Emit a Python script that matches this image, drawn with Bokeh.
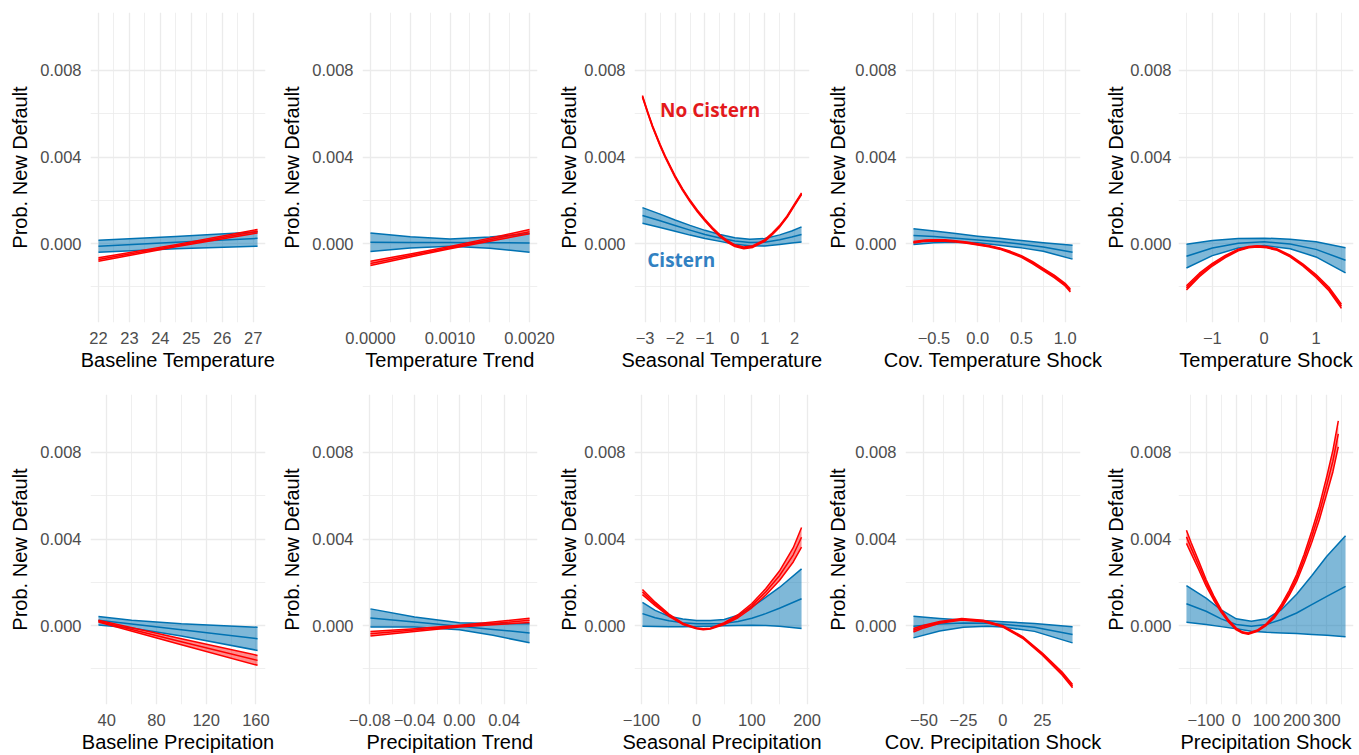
from bokeh.plotting import figure
from bokeh.layouts import gridplot
from bokeh.models import Range1d, FixedTicker, Label
from bokeh.embed import file_html
from bokeh.resources import INLINE

# ---------------- shared y axis ----------------
Y_LABEL = "Prob. New Default"
Y_TICKS = [0.0, 0.004, 0.008]
Y_TICK_LABELS = ["0.000", "0.004", "0.008"]
Y_MINOR = [-0.002, 0.002, 0.006]
Y_LIMITS = [-0.00365, 0.01068]

# ---------------- panel 1: Baseline Temperature ----------------
bt_title = "Baseline Temperature"
bt_ticks = [22, 23, 24, 25, 26, 27]
bt_labels = ["22", "23", "24", "25", "26", "27"]
bt_minor = [22.5, 23.5, 24.5, 25.5, 26.5]
bt_bx = [22.0, 24.5, 27.14]
bt_blo = [-0.0004, -0.00024, -0.00012]
bt_bmid = [-0.00012, 0.00006, 0.00024]
bt_bhi = [0.00015, 0.00032, 0.00054]
bt_rx = [22.0, 24.5, 27.14]
bt_rlo = [-0.00082, -0.00015, 0.00049]
bt_rmid = [-0.00074, -0.0001, 0.00057]
bt_rhi = [-0.00066, -0.00005, 0.00065]

# ---------------- panel 2: Temperature Trend ----------------
tt_title = "Temperature Trend"
tt_ticks = [0.0, 0.0005, 0.001, 0.0015, 0.002]
tt_labels = ["0.0000", "", "0.0010", "", "0.0020"]
tt_minor = [0.00025, 0.00075, 0.00125, 0.00175]
tt_bx = [0.0, 0.0005, 0.001, 0.0015, 0.002]
tt_blo = [-0.00037, -0.00021, -0.00012, -0.00022, -0.0004]
tt_bmid = [0.00006, 0.00005, 0.000045, 0.00004, 0.00003]
tt_bhi = [0.00049, 0.00031, 0.00021, 0.0003, 0.00046]
tt_rx = [0.0, 0.0005, 0.001, 0.0015, 0.002]
tt_rlo = [-0.00102, -0.00062, -0.00024, 0.00011, 0.00045]
tt_rmid = [-0.00092, -0.00055, -0.00019, 0.00018, 0.00055]
tt_rhi = [-0.00082, -0.00048, -0.00014, 0.00025, 0.00065]

# ---------------- panel 3: Seasonal Temperature ----------------
st_title = "Seasonal Temperature"
st_ticks = [-3, -2, -1, 0, 1, 2]
st_labels = ["\u22123", "\u22122", "\u22121", "0", "1", "2"]
st_minor = [-2.5, -1.5, -0.5, 0.5, 1.5]
st_bx = [-3.09, -2.5, -2.0, -1.5, -1.0, -0.5, 0.0, 0.5, 1.0, 1.5, 1.9, 2.23]
st_blo = [0.00094, 0.00074, 0.00057, 0.00039, 0.00023, 0.0001, -0.00003, -0.0001, -0.00011, -0.00004, 0.00002, 0.00007]
st_bmid = [0.0013, 0.00105, 0.00083, 0.00062, 0.00042, 0.00026, 0.00012, 0.00005, 0.00006, 0.00018, 0.0003, 0.00042]
st_bhi = [0.00166, 0.00136, 0.00109, 0.00084, 0.00061, 0.00042, 0.00027, 0.0002, 0.00023, 0.0004, 0.00058, 0.00077]
st_rx = [-3.09, -2.9, -2.75, -2.5, -2.33, -2.0, -1.75, -1.5, -1.25, -1.0, -0.75, -0.5,
         -0.25, 0.0, 0.3, 0.6, 1.0, 1.25, 1.5, 1.75, 2.0, 2.23]
st_rmid = [0.0068, 0.006, 0.0054, 0.00455, 0.00402, 0.0031, 0.0025, 0.00197, 0.0015, 0.00108,
           0.0007, 0.00036, 0.0001, -0.0001, -0.0002, -0.00014, 0.00014, 0.00045, 0.0008,
           0.00125, 0.0018, 0.0023]
st_rlo = [v - 0.00004 for v in st_rmid]
st_rhi = [v + 0.00004 for v in st_rmid]
st_note_red = ["No Cistern", -2.5, 0.00615]
st_note_blue = ["Cistern", -2.93, -0.00074]

# ---------------- panel 4: Cov. Temperature Shock ----------------
ct_title = "Cov. Temperature Shock"
ct_ticks = [-0.5, 0.0, 0.5, 1.0]
ct_labels = ["\u22120.5", "0.0", "0.5", "1.0"]
ct_minor = [-0.75, -0.25, 0.25, 0.75]
ct_bx = [-0.735, -0.5, -0.25, 0.0, 0.25, 0.5, 0.75, 1.085]
ct_blo = [-0.00005, 0.00004, 0.00006, 0.00004, -0.00008, -0.0002, -0.00036, -0.00072]
ct_bmid = [0.00037, 0.00032, 0.00024, 0.00016, 0.00008, -0.00003, -0.00016, -0.0004]
ct_bhi = [0.00068, 0.00058, 0.00046, 0.00034, 0.00024, 0.00014, 0.00004, -0.00008]
ct_rx = [-0.735, -0.6, -0.5, -0.375, -0.25, -0.125, 0.0, 0.125, 0.25, 0.375, 0.5, 0.625,
         0.75, 0.875, 1.0, 1.06]
ct_rmid = [0.00006, 0.00013, 0.00015, 0.00014, 0.0001, 0.00004, -0.00004, -0.00012, -0.00023,
           -0.0004, -0.0006, -0.00088, -0.0012, -0.00152, -0.0019, -0.00217]
ct_rhalf = [0.00004, 0.00003, 0.00003, 0.00003, 0.00003, 0.00003, 0.00003, 0.00003, 0.00003,
            0.00004, 0.00004, 0.00005, 0.00005, 0.00006, 0.00006, 0.00007]
ct_rlo = [m - h for m, h in zip(ct_rmid, ct_rhalf)]
ct_rhi = [m + h for m, h in zip(ct_rmid, ct_rhalf)]

# ---------------- panel 5: Temperature Shock ----------------
ts_title = "Temperature Shock"
ts_ticks = [-1, 0, 1]
ts_labels = ["\u22121", "0", "1"]
ts_minor = [-1.5, -0.5, 0.5, 1.5]
ts_bx = [-1.5, -1.0, -0.5, 0.0, 0.5, 1.0, 1.57]
ts_blo = [-0.00113, -0.00056, -0.00021, -0.00009, -0.00024, -0.00062, -0.00136]
ts_bmid = [-0.00059, -0.00021, 0.00001, 0.00008, -0.00002, -0.00027, -0.00077]
ts_bhi = [-0.00003, 0.00014, 0.00023, 0.00025, 0.0002, 0.00008, -0.00019]
ts_rx = [-1.5, -1.25, -1.0, -0.75, -0.5, -0.3, -0.13, 0.05, 0.25, 0.5, 0.75, 1.0, 1.25, 1.49]
ts_rmid = [-0.00205, -0.00145, -0.00098, -0.0006, -0.0003, -0.00017, -0.00013, -0.00017,
           -0.00028, -0.00058, -0.001, -0.0015, -0.0021, -0.0029]
ts_rhalf = [0.0001, 0.00008, 0.00006, 0.00005, 0.00004, 0.00003, 0.00003, 0.00003, 0.00003,
            0.00004, 0.00005, 0.00007, 0.00008, 0.0001]
ts_rlo = [m - h for m, h in zip(ts_rmid, ts_rhalf)]
ts_rhi = [m + h for m, h in zip(ts_rmid, ts_rhalf)]

# ---------------- panel 6: Baseline Precipitation ----------------
bp_title = "Baseline Precipitation"
bp_ticks = [40, 80, 120, 160]
bp_labels = ["40", "80", "120", "160"]
bp_minor = [60, 100, 140]
bp_bx = [33.3, 60, 100, 161.3]
bp_blo = [0.00002, -0.00011, -0.00048, -0.00115]
bp_bmid = [0.00024, 0.00007, -0.0002, -0.00061]
bp_bhi = [0.00042, 0.00025, 0.00008, -0.00008]
bp_rx = [33.3, 100, 161.3]
bp_rlo = [0.00016, -0.00089, -0.00184]
bp_rmid = [0.0002, -0.00075, -0.00161]
bp_rhi = [0.00024, -0.00061, -0.00138]

# ---------------- panel 7: Precipitation Trend ----------------
pt_title = "Precipitation Trend"
pt_ticks = [-0.08, -0.04, 0.0, 0.04]
pt_labels = ["\u22120.08", "\u22120.04", "0.00", "0.04"]
pt_minor = [-0.06, -0.02, 0.02, 0.06]
pt_bx = [-0.0794, -0.04, 0.0, 0.03, 0.0626]
pt_blo = [-0.00007, -0.00007, -0.00019, -0.00045, -0.0008]
pt_bmid = [0.00035, 0.00016, -0.00003, -0.00018, -0.00034]
pt_bhi = [0.00077, 0.00039, 0.00013, 0.00009, 0.00008]
pt_rx = [-0.0794, -0.04, 0.0, 0.03, 0.0626]
pt_rlo = [-0.00048, -0.00027, -0.00007, 0.00004, 0.00014]
pt_rmid = [-0.00038, -0.00021, -0.00003, 0.0001, 0.00024]
pt_rhi = [-0.00028, -0.00015, 0.00001, 0.00016, 0.00034]

# ---------------- panel 8: Seasonal Precipitation ----------------
sp_title = "Seasonal Precipitation"
sp_ticks = [-100, 0, 100, 200]
sp_labels = ["\u2212100", "0", "100", "200"]
sp_minor = [-50, 50, 150]
sp_bx = [-98, -75, -50, -25, 0, 25, 50, 75, 100, 125, 150, 190]
sp_blo = [-0.00003, -0.00005, -0.00006, -0.00006, -0.00005, -0.00003, -0.00001, 0.0, 0.00001, 0.0, -0.00003, -0.00014]
sp_bmid = [0.00055, 0.00036, 0.00022, 0.00013, 0.00008, 0.00008, 0.0001, 0.00019, 0.00034, 0.00055, 0.0008, 0.00124]
sp_bhi = [0.00107, 0.0007, 0.00043, 0.0003, 0.00023, 0.00023, 0.00028, 0.00048, 0.00085, 0.0013, 0.00176, 0.00262]
sp_rx = [-98, -75, -50, -25, 0, 12, 25, 50, 75, 100, 125, 150, 175, 190]
sp_rlo = [0.00143, 0.00092, 0.00043, 0.00005, -0.00015, -0.00019, -0.00016, 0.00005,
          0.00036, 0.00082, 0.0014, 0.00208, 0.00294, 0.00363]
sp_rmid = [0.00155, 0.001, 0.00048, 0.00008, -0.00013, -0.00017, -0.00014, 0.00009,
           0.00043, 0.00092, 0.00155, 0.0023, 0.00327, 0.00408]
sp_rhi = [0.00167, 0.00108, 0.00053, 0.00011, -0.00011, -0.00015, -0.00012, 0.00013,
          0.0005, 0.00102, 0.0017, 0.00252, 0.0036, 0.00453]

# ---------------- panel 9: Cov. Precipitation Shock ----------------
cp_title = "Cov. Precipitation Shock"
cp_ticks = [-50, -25, 0, 25]
cp_labels = ["\u221250", "\u221225", "0", "25"]
cp_minor = [-37.5, -12.5, 12.5, 37.5]
cp_bx = [-56.6, -40, -25, -10, 0, 20, 44.1]
cp_blo = [-0.00057, -0.00025, -0.00008, -0.00003, -0.00007, -0.00027, -0.0008]
cp_bmid = [-0.00003, 0.00007, 0.00012, 0.00011, 0.00006, -0.00008, -0.00041]
cp_bhi = [0.00043, 0.00033, 0.00026, 0.00022, 0.00018, 0.00009, -0.00006]
cp_rx = [-56.6, -50, -40, -26, -12.5, 0, 12.5, 25, 37.5, 44.1]
cp_rlo = [-0.0003, -0.00011, 0.00011, 0.00026, 0.00018, -0.00007, -0.00059, -0.00137, -0.00229, -0.00288]
cp_rmid = [-0.00022, -0.00005, 0.00015, 0.00029, 0.00021, -0.00004, -0.00055, -0.00132, -0.00222, -0.0028]
cp_rhi = [-0.00014, 0.00001, 0.00019, 0.00032, 0.00024, -0.00001, -0.00051, -0.00127, -0.00215, -0.00272]

# ---------------- panel 10: Precipitation Shock ----------------
ps_title = "Precipitation Shock"
ps_ticks = [-100, 0, 100, 200, 300]
ps_labels = ["\u2212100", "0", "100", "200", "300"]
ps_minor = [-150, -50, 50, 150, 250, 350]
ps_bx = [-165, -100, -50, 0, 50, 100, 150, 200, 250, 300, 362]
ps_blo = [0.00015, 0.00005, -0.00005, -0.00015, -0.00026, -0.00031, -0.00034, -0.00037, -0.00041, -0.00045, -0.00052]
ps_bmid = [0.00101, 0.00066, 0.00031, 0.00005, -0.00003, 0.00005, 0.00028, 0.00058, 0.00097, 0.00135, 0.00181]
ps_bhi = [0.00185, 0.00127, 0.00072, 0.00031, 0.0002, 0.00031, 0.00074, 0.00145, 0.0023, 0.0032, 0.00415]
ps_rx = [-165, -150, -125, -100, -75, -50, -25, 0, 20, 40, 70, 100, 125, 150, 175, 200,
         225, 250, 275, 300, 320, 338]
ps_rmid = [0.0041, 0.0036, 0.0028, 0.00198, 0.00128, 0.00068, 0.0002, -0.00016, -0.00032,
           -0.00037, -0.00024, 0.00005, 0.0004, 0.0009, 0.0015, 0.0022, 0.0031, 0.0041,
           0.0052, 0.0065, 0.0076, 0.00886]
ps_rhalf = [0.0003, 0.00025, 0.0002, 0.00015, 0.0001, 0.00007, 0.00005, 0.00004, 0.00003,
            0.00003, 0.00003, 0.00004, 0.00006, 0.00009, 0.00012, 0.00016, 0.0002, 0.00026,
            0.00032, 0.0004, 0.0005, 0.0006]
ps_rlo = [m - h for m, h in zip(ps_rmid, ps_rhalf)]
ps_rhi = [m + h for m, h in zip(ps_rmid, ps_rhalf)]

# ---------------- styles ----------------
BLUE = "#0072B2"
RED = "#FF0000"
GRID = "#EBEBEB"
FONT = "Liberation Sans"

COL_L = [90, 85, 79, 81, 76]
COL_R = [12, 18, 15, 22, 6]
FRAME_W = [175, 175, 175, 175, 175]
Y_LABEL_STANDOFF = [9, 9, 9, 9, 7]
Y_TITLE_STANDOFF = [6, 6, 1, 3, 0]
ROW_T = [12, 13]
ROW_B = [59, 51]
FRAME_H = 310

panels = [
    [bt_title, bt_ticks, bt_labels, bt_minor, bt_bx, bt_blo, bt_bmid, bt_bhi, bt_rx, bt_rlo, bt_rmid, bt_rhi],
    [tt_title, tt_ticks, tt_labels, tt_minor, tt_bx, tt_blo, tt_bmid, tt_bhi, tt_rx, tt_rlo, tt_rmid, tt_rhi],
    [st_title, st_ticks, st_labels, st_minor, st_bx, st_blo, st_bmid, st_bhi, st_rx, st_rlo, st_rmid, st_rhi],
    [ct_title, ct_ticks, ct_labels, ct_minor, ct_bx, ct_blo, ct_bmid, ct_bhi, ct_rx, ct_rlo, ct_rmid, ct_rhi],
    [ts_title, ts_ticks, ts_labels, ts_minor, ts_bx, ts_blo, ts_bmid, ts_bhi, ts_rx, ts_rlo, ts_rmid, ts_rhi],
    [bp_title, bp_ticks, bp_labels, bp_minor, bp_bx, bp_blo, bp_bmid, bp_bhi, bp_rx, bp_rlo, bp_rmid, bp_rhi],
    [pt_title, pt_ticks, pt_labels, pt_minor, pt_bx, pt_blo, pt_bmid, pt_bhi, pt_rx, pt_rlo, pt_rmid, pt_rhi],
    [sp_title, sp_ticks, sp_labels, sp_minor, sp_bx, sp_blo, sp_bmid, sp_bhi, sp_rx, sp_rlo, sp_rmid, sp_rhi],
    [cp_title, cp_ticks, cp_labels, cp_minor, cp_bx, cp_blo, cp_bmid, cp_bhi, cp_rx, cp_rlo, cp_rmid, cp_rhi],
    [ps_title, ps_ticks, ps_labels, ps_minor, ps_bx, ps_blo, ps_bmid, ps_bhi, ps_rx, ps_rlo, ps_rmid, ps_rhi],
]


def make_panel(cfg, row, col):
    title, ticks, labels, minor, bx, blo, bmid, bhi, rx, rlo, rmid, rhi = cfg
    xs = list(bx) + list(rx)
    x0, x1 = min(xs), max(xs)
    pad = 0.05 * (x1 - x0)
    w = COL_L[col] + FRAME_W[col] + COL_R[col]
    h = ROW_T[row] + FRAME_H + ROW_B[row]
    p = figure(width=w, height=h,
               x_range=Range1d(x0 - pad, x1 + pad),
               y_range=Range1d(Y_LIMITS[0], Y_LIMITS[1]),
               output_backend="svg", toolbar_location=None,
               min_border_left=COL_L[col], min_border_right=COL_R[col],
               min_border_top=ROW_T[row], min_border_bottom=ROW_B[row])
    p.outline_line_color = None
    p.background_fill_color = "white"
    p.border_fill_color = "white"

    xt = FixedTicker(ticks=ticks, minor_ticks=minor)
    yt = FixedTicker(ticks=Y_TICKS, minor_ticks=Y_MINOR)
    p.xaxis.ticker = xt
    p.yaxis.ticker = yt
    p.xgrid.ticker = xt
    p.ygrid.ticker = yt
    p.xaxis.major_label_overrides = {float(t): l for t, l in zip(ticks, labels)}
    p.yaxis.major_label_overrides = {float(t): l for t, l in zip(Y_TICKS, Y_TICK_LABELS)}

    for g in (p.xgrid, p.ygrid):
        g.grid_line_color = GRID
        g.grid_line_width = 1.3
        g.minor_grid_line_color = GRID
        g.minor_grid_line_width = 0.8

    for ax in (p.xaxis, p.yaxis):
        ax.axis_line_color = None
        ax.major_tick_line_color = None
        ax.minor_tick_line_color = None
        ax.major_tick_out = 0
        ax.major_tick_in = 0
        ax.minor_tick_out = 0
        ax.minor_tick_in = 0
        ax.major_label_text_font = FONT
        ax.major_label_text_font_size = "16.5px"
        ax.major_label_text_color = "#4D4D4D"
        ax.axis_label_text_font = FONT
        ax.axis_label_text_font_size = "20px"
        ax.axis_label_text_font_style = "normal"
        ax.axis_label_text_color = "#000000"

    p.xaxis.axis_label = title
    p.xaxis.major_label_standoff = 9
    p.xaxis.axis_label_standoff = 2
    p.yaxis.axis_label = Y_LABEL
    p.yaxis.major_label_standoff = Y_LABEL_STANDOFF[col]
    p.yaxis.axis_label_standoff = Y_TITLE_STANDOFF[col]

    # Cistern (blue) ribbon
    p.varea(x=bx, y1=blo, y2=bhi, fill_color=BLUE, fill_alpha=0.5)
    for ys in (blo, bmid, bhi):
        p.line(bx, ys, line_color=BLUE, line_width=1.5, line_join="round")
    # No Cistern (red) ribbon
    p.varea(x=rx, y1=rlo, y2=rhi, fill_color=RED, fill_alpha=0.45)
    for ys in (rlo, rmid, rhi):
        p.line(rx, ys, line_color=RED, line_width=1.5, line_join="round")
    return p


figs = []
for i, cfg in enumerate(panels):
    row, col = divmod(i, 5)
    figs.append(make_panel(cfg, row, col))

# annotations in the Seasonal Temperature panel
p3 = figs[2]
p3.add_layout(Label(x=st_note_red[1], y=st_note_red[2], text=st_note_red[0],
                    text_font="Open Sans", text_font_style="bold", text_font_size="19px",
                    text_color="#E3191C", text_baseline="middle", text_align="left"))
p3.add_layout(Label(x=st_note_blue[1], y=st_note_blue[2], text=st_note_blue[0],
                    text_font="Open Sans", text_font_style="bold", text_font_size="19px",
                    text_color="#3181C2", text_baseline="middle", text_align="left"))

grid = gridplot([figs[:5], figs[5:]], toolbar_location=None)

open("out.html", "w").write(file_html(grid, INLINE))
